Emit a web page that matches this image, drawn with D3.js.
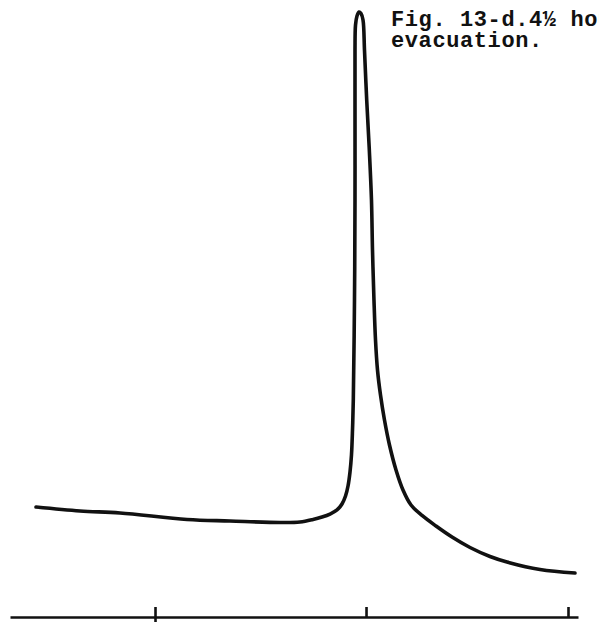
<!DOCTYPE html>
<html>
<head>
<meta charset="utf-8">
<script src="https://cdn.jsdelivr.net/npm/d3@7"></script>
<style>
  html, body { margin: 0; padding: 0; background: #fff; }
  svg { display: block; }
</style>
</head>
<body>
<svg id="chart" width="599" height="625"></svg>
<script>
// Absorption trace: positions along the scan (0–100) and relative response (0–100)
const traceX = [4.58, 12.32, 19.37, 31.16, 38.73, 47.54, 51.06, 53.35, 54.93, 56.34,
  57.57, 58.45, 59.07, 59.51, 59.86, 60.12, 60.30, 60.44, 60.65, 60.74, 60.74, 60.74,
  60.83, 61.09, 61.44, 61.80, 62.15, 62.41, 62.80, 63.26, 63.64, 63.82, 64.08, 64.35,
  64.70, 65.23, 65.93, 66.81, 67.96, 69.19, 70.60, 72.54, 75.00, 77.82, 80.99, 84.51,
  87.50, 93.31, 99.47];
const traceY = [18.18, 17.52, 17.19, 16.12, 15.87, 15.62, 15.70, 16.12, 16.53, 17.02,
  17.69, 18.68, 20.00, 21.65, 23.97, 26.78, 30.91, 35.87, 52.40, 68.93, 85.45, 93.72,
  97.85, 99.34, 100, 99.75, 98.68, 93.72, 85.45, 77.19, 68.93, 60.66, 52.40, 45.79,
  40.83, 36.69, 32.56, 28.43, 24.30, 20.99, 18.51, 16.78, 15.04, 13.22, 11.49, 10.00,
  9.09, 7.85, 7.27];
// Scale marks along the baseline
const tickValues = [25.53, 62.68, 98.24];
const captionLines = ["Fig. 13-", "evacuation."];

const svg = d3.select("#chart");

const x = d3.scaleLinear().domain([0, 100]).range([10, 578]);
const y = d3.scaleLinear().domain([0, 100]).range([617, 12]);

const points = traceX.map((v, i) => [v, traceY[i]]);

// Baseline with tick marks
const axis = d3.axisBottom(x)
  .tickValues(tickValues)
  .tickSizeInner(-10)
  .tickSizeOuter(0)
  .tickFormat("");

const gAxis = svg.append("g")
  .attr("transform", `translate(0,${y(0)})`)
  .call(axis);
gAxis.select(".domain").attr("stroke", "#111").attr("stroke-width", 2.6);
gAxis.selectAll(".tick line")
  .attr("stroke", "#111")
  .attr("stroke-width", 2.6)
  .attr("y1", (d, i) => (i === 0 ? 5 : 0));

// The trace itself
const line = d3.line()
  .x(d => x(d[0]))
  .y(d => y(d[1]))
  .curve(d3.curveCatmullRom.alpha(0.5));

svg.append("path")
  .datum(points)
  .attr("d", line)
  .attr("fill", "none")
  .attr("stroke", "#111")
  .attr("stroke-width", 3.6)
  .attr("stroke-linejoin", "round")
  .attr("stroke-linecap", "round");

// Typed caption
const font = "'Liberation Mono', 'DejaVu Sans Mono', monospace";
const cap = svg.append("text")
  .attr("x", 391)
  .attr("y", 26)
  .attr("font-family", font)
  .attr("font-size", 22)
  .attr("letter-spacing", 0.6)
  .attr("font-weight", "bold")
  .attr("fill", "#111");
cap.append("tspan").text(captionLines[0]);
cap.append("tspan").attr("font-weight", "900").text("d");
cap.append("tspan").text(".4½ hours");

svg.append("text")
  .attr("x", 391)
  .attr("y", 47)
  .attr("font-family", font)
  .attr("font-size", 22)
  .attr("letter-spacing", 0.6)
  .attr("font-weight", "bold")
  .attr("fill", "#111")
  .text(captionLines[1]);
</script>
</body>
</html>
